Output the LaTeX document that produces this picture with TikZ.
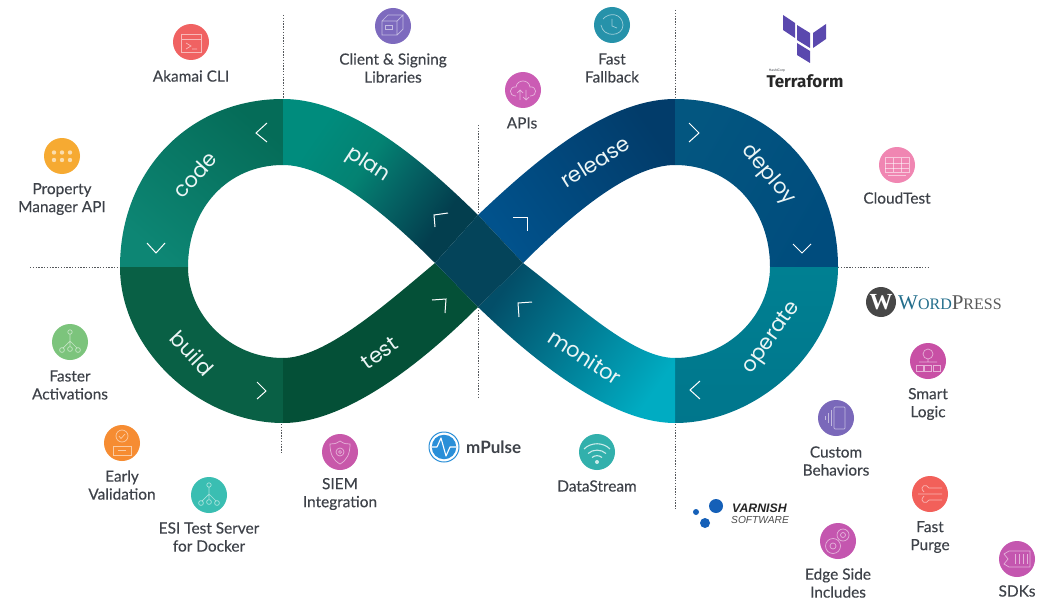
\documentclass[tikz,border=0pt]{standalone}
\usepackage{fontspec}
\setmainfont{Lato}
\newfontfamily\labfont[FakeBold=0.25]{Lato}
\newfontfamily\bandfont{Poppins}
\newfontfamily\serifwp{Liberation Serif}
\newfontfamily\arialf{Liberation Sans}
\newfontfamily\firaf{Fira Sans}
\definecolor{txt}{HTML}{3E4249}
\definecolor{ringgray}{HTML}{55585C}
\definecolor{tfpurple}{HTML}{5A48AE}
\definecolor{vblue}{HTML}{1560B8}
\definecolor{mblue}{HTML}{2A8FD8}
\definecolor{wpblue}{RGB}{35,110,140}
% band colours
\definecolor{codeA}{RGB}{5,108,88}
\definecolor{codeB}{RGB}{13,134,116}
\definecolor{buildC}{RGB}{9,96,69}
\definecolor{testC}{RGB}{4,80,55}
\definecolor{planA}{RGB}{0,140,125}
\definecolor{planB}{RGB}{4,130,114}
\definecolor{planM}{RGB}{5,100,100}
\definecolor{planC}{RGB}{3,62,78}
\definecolor{relA}{RGB}{2,60,106}
\definecolor{relB}{RGB}{1,82,140}
\definecolor{depA}{RGB}{3,86,128}
\definecolor{depB}{RGB}{0,76,125}
\definecolor{opA}{RGB}{0,128,146}
\definecolor{opB}{RGB}{0,118,140}
\definecolor{monA}{RGB}{3,78,104}
\definecolor{monB}{RGB}{2,120,148}
\definecolor{monC}{RGB}{0,172,194}
\definecolor{crossC}{RGB}{4,68,90}
% icon colours
\definecolor{cakamai}{RGB}{240,98,98}
\definecolor{cprop}{RGB}{246,170,50}
\definecolor{cclient}{RGB}{125,106,190}
\definecolor{cfast}{RGB}{38,146,170}
\definecolor{capis}{RGB}{203,92,180}
\definecolor{ccloud}{RGB}{240,134,178}
\definecolor{cfaster}{RGB}{124,196,124}
\definecolor{cearly}{RGB}{246,140,50}
\definecolor{cesi}{RGB}{58,190,178}
\definecolor{csiem}{RGB}{200,88,170}
\definecolor{cdata}{RGB}{50,176,172}
\definecolor{ccustom}{RGB}{122,104,186}
\definecolor{csmart}{RGB}{200,80,165}
\definecolor{cpurge}{RGB}{242,96,90}
\definecolor{cedge}{RGB}{196,86,175}
\pgfdeclareverticalshading{planshade}{100bp}{color(0bp)=(planC); color(30bp)=(planC); color(45bp)=(planM); color(56bp)=(planB); color(72bp)=(planA); color(100bp)=(planA)}
\tikzset{
  guide/.style={draw=ringgray,line width=1pt,dash pattern=on 1.4pt off 1.4pt},
  chev/.style={draw=white,line width=1pt,line join=miter},
  bandlabel/.style={text=white!92!teal,font=\bandfont\fontsize{21}{23}\selectfont,inner sep=0pt},
  lab/.style={text=txt,font=\labfont\fontsize{15.4}{18}\selectfont,align=center,inner sep=0pt},
  iconc/.style={circle,minimum size=36pt,inner sep=0pt,fill=#1},
  ic/.style={every path/.style={draw=white,draw opacity=.55,line width=.7pt,fill=none}},
}
\newcommand{\treeglyph}{%
  \draw (0,-10) circle (2.2);
  \draw (0,-8) -- (0,-1) (-7,6) -- (0,-1) -- (7,6) (0,-1) -- (0,4);
  \draw (-8,8) circle (2.4) (0,7) circle (2.4) (8,8) circle (2.4);
}
\begin{document}
\begin{tikzpicture}[x=1pt,y=-1pt]
\useasboundingbox (0,0) rectangle (1040,599);
\fill[white] (0,0) rectangle (1040,599);

% guides
\coordinate (g1a) at (283,15); \coordinate (g1b) at (283,99);
\coordinate (g2a) at (281,424); \coordinate (g2b) at (281,454);
\coordinate (g3a) at (478,125); \coordinate (g3b) at (478,215);
\coordinate (g4a) at (478,307); \coordinate (g4b) at (478,398);
\coordinate (g5a) at (675,10); \coordinate (g5b) at (675,99);
\coordinate (g6a) at (675,424); \coordinate (g6b) at (675,510);
\coordinate (g7a) at (30,267); \coordinate (g7b) at (120,267);
\coordinate (g8a) at (838,267); \coordinate (g8b) at (930,267);
\foreach \a/\b in {g1a/g1b,g2a/g2b,g3a/g3b,g4a/g4b,g5a/g5b,g6a/g6b,g7a/g7b,g8a/g8b}
  \draw[guide] (\a) -- (\b);

% code
\shade[top color=codeA,bottom color=codeB,shading angle=-40]
  (120,267) .. controls (120,170) and (190,99) .. (283,99)
  -- (283,165) .. controls (228,165) and (188,208) .. (188,267) -- cycle;
% build
\fill[buildC]
  (120,267) .. controls (120,350) and (200,423) .. (283,423)
  -- (283,358) .. controls (230,358) and (188,315) .. (188,267) -- cycle;
% test
\fill[testC]
  (283,423) .. controls (345,423) and (420,365) .. (478,307)
  -- (435,263) .. controls (385,305) and (325,358) .. (283,358) -- cycle;
% plan
\shade[shading=planshade,shading angle=55]
  (283,99) .. controls (350,99) and (420,158) .. (478,215)
  -- (435,263) .. controls (380,208) and (325,165) .. (283,165) -- cycle;
% release
\shade[top color=relA,bottom color=relB,shading angle=-55]
  (675,99) .. controls (608,99) and (538,158) .. (478,215)
  -- (523,263) .. controls (578,208) and (633,165) .. (675,165) -- cycle;
% deploy
\shade[top color=depA,bottom color=depB,shading angle=60]
  (838,267) .. controls (838,170) and (768,99) .. (675,99)
  -- (675,165) .. controls (730,165) and (770,208) .. (770,267) -- cycle;
% operate
\shade[top color=opA,bottom color=opB]
  (838,267) .. controls (838,350) and (758,423) .. (675,423)
  -- (675,358) .. controls (728,358) and (770,315) .. (770,267) -- cycle;
% monitor
\shade[top color=monA,middle color=monB,bottom color=monC,shading angle=55]
  (675,423) .. controls (613,423) and (538,365) .. (478,307)
  -- (523,263) .. controls (578,305) and (633,358) .. (675,358) -- cycle;
% crossing
\fill[crossC] (478,215) -- (523,263) -- (478,307) -- (435,263) -- cycle;

% chevrons
\draw[chev] (267,123) -- (256,133) -- (267,142);
\draw[chev] (147,243) -- (156,253) -- (165,243);
\draw[chev] (448,213) -- (434,215) -- (435,227);
\draw[chev] (432,300) -- (446,299) -- (445,313);
\draw[chev] (257,382) -- (266,391) -- (257,399);
\draw[chev] (513,217) -- (527,217) -- (527,231);
\draw[chev] (689,123) -- (699,133) -- (689,142);
\draw[chev] (793,244) -- (802,253) -- (811,244);
\draw[chev] (700,381) -- (690,390) -- (700,399);
\draw[chev] (532,302) -- (518,303) -- (519,317);

% band labels
\node[bandlabel,rotate=48] (tcode) at (195,175) {code};
\node[bandlabel,rotate=-33] (tplan) at (368,165) {plan};
\node[bandlabel,rotate=-47] (tbuild) at (192,353) {build};
\node[bandlabel,rotate=35] (ttest) at (380,353) {test};
\node[bandlabel,rotate=32] (trelease) at (595,162) {release};
\node[bandlabel,rotate=-50] (tdeploy) at (768,175) {deploy};
\node[bandlabel,rotate=-33] (tmonitor) at (585,357) {monitor};
\node[bandlabel,rotate=55] (toperate) at (772,338) {operate};

% icon circles
\node[iconc=cakamai] (iakamai) at (191,42) {};
\node[iconc=cprop] (iprop) at (62,156) {};
\node[iconc=cclient] (iclient) at (393,26) {};
\node[iconc=cfast] (ifast) at (612,25) {};
\node[iconc=capis] (iapis) at (523,90) {};
\node[iconc=ccloud] (icloud) at (897,165) {};
\node[iconc=cfaster] (ifaster) at (70,342) {};
\node[iconc=cearly] (iearly) at (122,443) {};
\node[iconc=cesi] (iesi) at (209,495) {};
\node[iconc=csiem] (isiem) at (340,452) {};
\node[iconc=cdata] (idata) at (597,452) {};
\node[iconc=ccustom] (icustom) at (836,418) {};
\node[iconc=csmart] (ismart) at (928,361) {};
\node[iconc=cpurge] (ipurge) at (930,494) {};
\node[iconc=cedge] (iedge) at (838,541) {};
\node[iconc=cedge] (isdk) at (1017,559) {};

% glyphs
\begin{scope}[shift={(191,42)},ic]
  \draw (-10,-8) rectangle (10,10) (-10,-3) -- (10,-3);
  \draw (-5,1) -- (0,4) -- (-5,7) (1,7) -- (6,7);
\end{scope}
\begin{scope}[shift={(62,156)}]
  \foreach \x in {-8,0,8}\foreach \y in {-3.5,4}
    \fill[white,opacity=.6] (\x,\y) circle (2.2);
\end{scope}
\begin{scope}[shift={(393,26)},ic]
  \draw (-11,-5) rectangle (4,9) (-11,-5) -- (-5,-11) -- (10,-11) -- (4,-5) (10,-11) -- (10,3) -- (4,9);
  \draw (-8,-1) rectangle (-1,3);
\end{scope}
\begin{scope}[shift={(612,25)},ic]
  \draw (-9,-6) .. controls (-3,-13) and (10,-12) .. (11,0) .. controls (11,12) and (-9,13) .. (-11,0);
  \draw (0,-6) -- (0,1) -- (5,3);
\end{scope}
\begin{scope}[shift={(523,90)},ic]
  \draw (-7,6) .. controls (-15,6) and (-14,-4) .. (-7,-3) .. controls (-6,-11) and (6,-11) .. (7,-3) .. controls (14,-4) and (15,6) .. (7,6);
  \draw (-3,10) -- (-3,0) (-6,3) -- (-3,0) -- (0,3) (3,0) -- (3,10) (0,7) -- (3,10) -- (6,7);
\end{scope}
\begin{scope}[shift={(897,165)},ic]
  \draw (-12,-8) rectangle (-4,7) (-4,-8) rectangle (4,7) (4,-8) rectangle (12,7);
  \draw (-12,-2) -- (12,-2) (-12,3) -- (12,3) (-9,10) -- (9,10);
\end{scope}
\begin{scope}[shift={(70,342)},ic] \treeglyph \end{scope}
\begin{scope}[shift={(209,495)},ic] \treeglyph \end{scope}
\begin{scope}[shift={(122,443)},ic]
  \draw (0,-7) circle (6) (-3,-7) -- (-1,-4.5) -- (3,-9);
  \draw (-9,3) rectangle (9,12) (-4,7.5) -- (4,7.5);
\end{scope}
\begin{scope}[shift={(340,452)},ic]
  \draw (0,-11) .. controls (4,-8) and (7,-8) .. (10,-8) .. controls (10,2) and (7,8) .. (0,12) .. controls (-7,8) and (-10,2) .. (-10,-8) .. controls (-7,-8) and (-4,-8) .. (0,-11);
  \draw (0,0) circle (4) (0,0) circle (1.5);
\end{scope}
\begin{scope}[shift={(597,452)}]
  \draw[draw=white,draw opacity=.75,line width=1.1pt]
    (-13,-3) .. controls (-6,-10) and (6,-10) .. (13,-3)
    (-9,1.5) .. controls (-4,-3) and (4,-3) .. (9,1.5)
    (-5,5.5) .. controls (-2,3) and (2,3) .. (5,5.5);
  \fill[white,opacity=.75] (0,10) circle (2);
\end{scope}
\begin{scope}[shift={(836,418)},ic]
  \draw[rounded corners=1pt] (-2,-11) rectangle (9,11);
  \draw (-5,-8) -- (-5,8) (-8,-5) -- (-8,5) (-11,-2) -- (-11,2);
\end{scope}
\begin{scope}[shift={(928,361)},ic]
  \draw (0,-7) circle (5) (0,-2) -- (0,1) (-9,1) -- (9,1);
  \draw (-12,4) rectangle (-5,10) (-3.5,4) rectangle (3.5,10) (5,4) rectangle (12,10);
\end{scope}
\begin{scope}[shift={(930,494)},ic]
  \draw (-6,-2) .. controls (-12,-8) and (-3,-11) .. (-1,-6) -- (12,-6);
  \draw (-12,0) -- (12,0) (-6,2) .. controls (-12,8) and (-3,11) .. (-1,6) -- (12,6);
\end{scope}
\begin{scope}[shift={(838,541)},ic]
  \draw (5,-6) circle (6) (5,-6) circle (2.5);
  \draw (-5,5) circle (7.5) (-5,5) circle (3);
\end{scope}
\begin{scope}[shift={(1017,559)},ic]
  \draw (-13,-5) -- (-8,-8) -- (13,-8) -- (13,8) -- (-8,8) -- (-13,5) -- (-9,0) -- cycle;
  \draw (-2,-5) -- (-2,5) (2,-5) -- (2,5) (6,-5) -- (6,5) (10,-5) -- (10,5);
\end{scope}

% labels
\node[lab] (lakamai) at (191,76) {Akamai CLI};
\node[lab] (lprop) at (62,199) {Property\\Manager API};
\node[lab] (lclient) at (393,68) {Client \& Signing\\Libraries};
\node[lab] (lfast) at (612,68) {Fast\\Fallback};
\node[lab] (lapis) at (522,123) {APIs};
\node[lab] (lcloud) at (897,198) {CloudTest};
\node[lab] (lfaster) at (70,385) {Faster\\Activations};
\node[lab] (learly) at (122,485) {Early\\Validation};
\node[lab] (lesi) at (209,537) {ESI Test Server\\for Docker};
\node[lab] (lsiem) at (340,494) {SIEM\\Integration};
\node[lab] (ldata) at (597,486) {DataStream};
\node[lab] (lcustom) at (836,461) {Custom\\Behaviors};
\node[lab] (lsmart) at (928,404) {Smart\\Logic};
\node[lab] (lpurge) at (930,537) {Fast\\Purge};
\node[lab] (ledge) at (838,583) {Edge Side\\Includes};
\node[lab] (lsdk) at (1017,591) {SDKs};

% Terraform
\fill[tfpurple] (783,15) -- (795,23) -- (795,38) -- (783,30) -- cycle;
\fill[tfpurple] (797,25) -- (810,33) -- (810,48) -- (797,40) -- cycle;
\fill[tfpurple] (813,33) -- (826,24) -- (826,39) -- (813,48) -- cycle;
\fill[tfpurple] (797,43) -- (810,51) -- (810,63) -- (797,55) -- cycle;
\node[inner sep=0pt,text=txt,font=\arialf\fontsize{3.4}{4}\selectfont] (thashi) at (777,70.5) {HashiCorp};
\node[inner sep=0pt,text=black!85,font=\firaf\bfseries\fontsize{17}{20}\selectfont] (tterra) at (805,81) {Terraform};

% WordPress
\node[circle,minimum size=30pt,inner sep=0pt,fill=black!72,font=\serifwp\bfseries\fontsize{23}{24}\selectfont,text=white] (wplogo) at (881,302) {W};
\node[inner sep=0pt,anchor=west,font=\serifwp,text=wpblue] (wptext) at (898,303)
  {{\fontsize{21}{22}\selectfont W}{\fontsize{16}{22}\selectfont ORD}\textcolor{black!65}{{\fontsize{21}{22}\selectfont P}{\fontsize{16}{22}\selectfont RESS}}};

% mPulse
\node[circle,minimum size=30pt,inner sep=0pt,fill=white,draw=mblue,line width=1pt] (mring) at (444,447) {};
\node[circle,minimum size=24.5pt,inner sep=0pt,fill=mblue] (mdisc) at (444,447) {};
\draw[white,line width=1.1pt,line join=round] (432,447) -- (437,447) -- (441,438) -- (446,456) -- (450,447) -- (456,447);
\node[inner sep=0pt,anchor=west,text=txt,font=\bfseries\fontsize{17}{19}\selectfont] (mtext) at (466,447) {mPulse};

% Varnish
\node[circle,minimum size=14pt,inner sep=0pt,fill=vblue] (v1) at (716,506) {};
\node[circle,minimum size=10pt,inner sep=0pt,fill=vblue] (v2) at (705,523) {};
\node[circle,minimum size=6pt,inner sep=0pt,fill=vblue] (v3) at (696,512) {};
\node[inner sep=0pt,anchor=west,text=black!85,font=\arialf\bfseries\itshape\fontsize{12.3}{13}\selectfont] (vt1) at (732,508) {VARNISH};
\node[inner sep=0pt,anchor=west,text=black!70,font=\arialf\itshape\fontsize{10.2}{12}\selectfont] (vt2) at (731,520) {SOFTWARE};
\end{tikzpicture}
\end{document}
